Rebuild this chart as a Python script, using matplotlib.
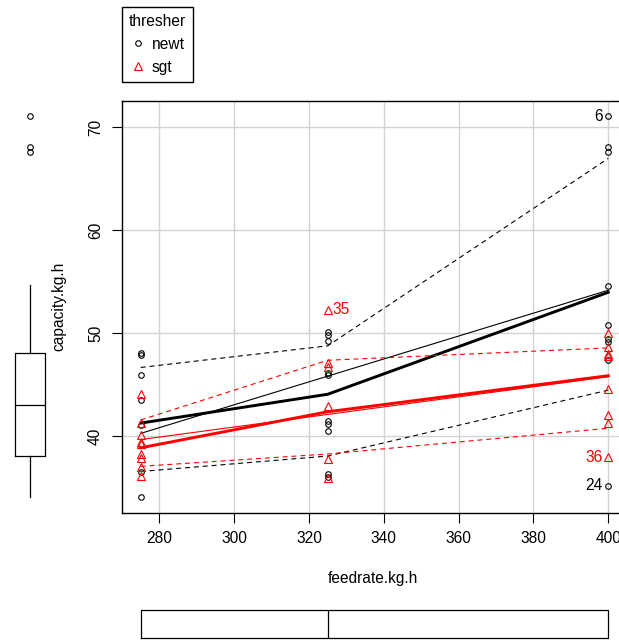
import numpy as np
import matplotlib
matplotlib.use("Agg")
import matplotlib.pyplot as plt
from matplotlib.lines import Line2D

plt.rcParams['font.family'] = ['Liberation Sans', 'DejaVu Sans']

# ---- data ----
feedrates = [275, 325, 400]

newt_275 = [48.1, 47.9, 46.0, 43.5, 41.1, 36.6, 34.1]
newt_325 = [50.1, 49.9, 49.3, 46.2, 46.0, 41.5, 41.2, 40.5, 36.4, 36.1]
newt_400 = [71.1, 68.1, 67.6, 54.6, 50.8, 49.5, 49.2, 47.4, 35.2]

sgt_275 = [44.1, 41.3, 40.1, 39.5, 39.3, 38.3, 37.9, 37.0, 36.2]
sgt_325 = [52.3, 47.1, 46.7, 43.0, 37.8, 36.0]
sgt_400 = [50.0, 48.7, 48.0, 47.8, 44.6, 42.1, 41.3, 38.0]

# fitted lines (linear at 275 and 400, smoother / spread at 275, 325, 400)
newt_lin = [40.3, 54.2]
newt_smooth = [41.3, 44.1, 54.0]
newt_upper = [46.7, 48.8, 67.0]
newt_lower = [36.6, 38.1, 44.5]

sgt_lin = [39.7, 45.8]
sgt_smooth = [38.9, 42.4, 45.9]
sgt_upper = [41.6, 47.4, 48.6]
sgt_lower = [37.1, 38.3, 40.8]

# labelled points: x, y, text, group
point_labels = [(400, 71.1, "6", "newt"), (400, 35.2, "24", "newt"),
                (400, 38.0, "36", "sgt"), (325, 52.3, "35", "sgt")]

# marginal boxplots
cap_box = dict(q1=38.1, med=43.1, q3=48.1, whislo=34.1, whishi=54.7, fliers=[71.1, 68.1, 67.6])
feed_box = dict(q1=275, med=325, q3=400, whislo=275, whishi=400, fliers=[])

W, H = 619, 640
fig = plt.figure(figsize=(W / 100, H / 100), dpi=100)
fs = 11.2

ax = fig.add_axes([122 / W, 1 - 512.7 / H, 505 / W, 412 / H])
ax.set_xlim(270, 405)
ax.set_ylim(32.6, 72.6)
ax.set_xticks([280, 300, 320, 340, 360, 380, 400])
ax.set_yticks([40, 50, 60, 70])
ax.grid(True, color='#d3d3d3', lw=1)
ax.set_axisbelow(True)
ax.tick_params(direction='out', length=7.2, width=0.8, labelsize=fs, pad=6.2)
ax.tick_params(axis='y', labelrotation=90, pad=6.5)
for lab in ax.get_yticklabels():
    lab.set_va('center')
for sp in ax.spines.values():
    sp.set_linewidth(1.0)

groups = {
    "newt": dict(color='black', marker='o', ms=4, pts=[newt_275, newt_325, newt_400],
                 lin=newt_lin, smooth=newt_smooth, upper=newt_upper, lower=newt_lower),
    "sgt": dict(color='red', marker='^', ms=6, pts=[sgt_275, sgt_325, sgt_400],
                lin=sgt_lin, smooth=sgt_smooth, upper=sgt_upper, lower=sgt_lower),
}

for name, g in groups.items():
    c = g['color']
    ax.plot([feedrates[0], feedrates[-1]], g['lin'], color=c, lw=0.8)
    ax.plot(feedrates, g['smooth'], color=c, lw=2.1)
    ax.plot(feedrates, g['upper'], color=c, lw=0.8, dashes=(4.5, 3.5))
    ax.plot(feedrates, g['lower'], color=c, lw=0.8, dashes=(4.5, 3.5))
    for xv, ys in zip(feedrates, g['pts']):
        ax.plot([xv] * len(ys), ys, ls='none', marker=g['marker'], ms=g['ms'],
                mfc='none', mec=c, mew=0.8)

for xv, yv, txt, grp in point_labels:
    c = groups[grp]['color']
    if xv > 350:
        ax.annotate(txt, (xv, yv), xytext=(-4, 0), textcoords='offset points',
                    ha='right', va='center', color=c, fontsize=fs)
    else:
        ax.annotate(txt, (xv, yv), xytext=(3.4, 0), textcoords='offset points',
                    ha='left', va='center', color=c, fontsize=fs)

fig.text(373 / W, 1 - 579 / H, "feedrate.kg.h", ha='center', va='center', fontsize=fs)
fig.text(58.5 / W, 1 - 306 / H, "capacity.kg.h", ha='center', va='center',
         rotation=90, fontsize=fs)

# left marginal boxplot
axl = fig.add_axes([0, 1 - 512.7 / H, 60 / W, 412 / H])
axl.bxp([cap_box], positions=[0.5], widths=0.5, showcaps=False,
        boxprops=dict(color='black', lw=0.9), whiskerprops=dict(color='black', lw=0.9),
        medianprops=dict(color='black', lw=0.9),
        flierprops=dict(marker='o', ms=4, mfc='none', mec='black', mew=0.8))
axl.set_xlim(0, 1)
axl.set_ylim(32.6, 72.6)
axl.axis('off')

# bottom marginal boxplot
axb = fig.add_axes([122 / W, 1 - 645 / H, 505 / W, 42 / H])
axb.bxp([feed_box], positions=[0.5], widths=28 / 42, vert=False, showcaps=False,
        boxprops=dict(color='black', lw=0.9), whiskerprops=dict(color='black', lw=0.9),
        medianprops=dict(color='black', lw=0.9), showfliers=False)
axb.set_xlim(270, 405)
axb.set_ylim(0, 1)
axb.axis('off')

handles = [Line2D([], [], ls='none', marker='o', ms=4, mfc='none', mec='black', mew=0.8),
           Line2D([], [], ls='none', marker='^', ms=6, mfc='none', mec='red', mew=0.8)]
leg = fig.legend(handles, ["newt", "sgt"], title="thresher", loc='upper left',
                 bbox_to_anchor=(122 / W, 1 - 7 / H), bbox_transform=fig.transFigure,
                 borderaxespad=0, fontsize=fs, title_fontsize=fs, fancybox=False,
                 framealpha=1, edgecolor='black', handlelength=1.0, handletextpad=0.4,
                 labelspacing=0.5, borderpad=0.45)
leg.get_frame().set_linewidth(1.0)

fig.savefig("out.png", dpi=100)
